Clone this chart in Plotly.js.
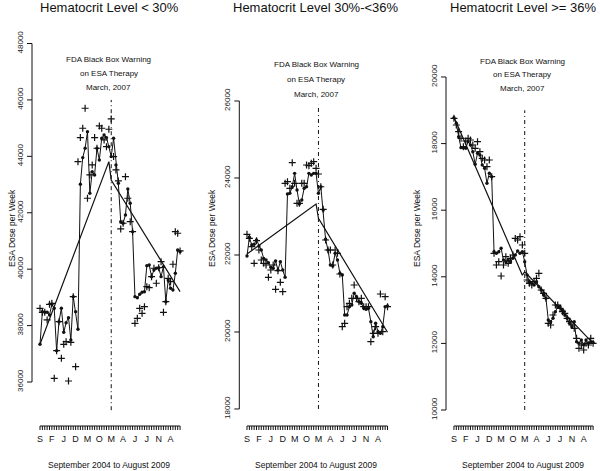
<!DOCTYPE html>
<html>
<head>
<meta charset="utf-8">
<script src="https://cdn.plot.ly/plotly-3.0.1.min.js"></script>
<style>html,body{margin:0;padding:0;background:#fff;}#chart{width:600px;height:471px;}</style>
</head>
<body>
<div id="chart"></div>
<script>
// Month index 0 = Sep 2004 ... 59 = Aug 2009
const months = Array.from({length: 60}, (_, i) => i);
const tickLetters = ['S','F','J','D','M','O','M','A','J','J','N','A'];
const tickLetterMonths = [0,5,10,15,20,25,30,35,40,45,50,55];
const warningMonth = 30; // March 2007

const panelTitles = ['Hematocrit Level < 30%', 'Hematocrit Level 30%-<36%', 'Hematocrit Level >= 36%'];
const warningText = ['FDA Black Box Warning', 'on ESA Therapy', 'March, 2007'];
const yLabel = 'ESA Dose per Week';
const xLabel = 'September 2004 to August 2009';

// Panel 1: Hematocrit < 30%
const p1Observed = [37337,38494,38471,38471,38376,38754,38612,37111,38139,38612,37762,38103,38280,37489,39025,38494,37868,43010,43955,44287,44876,42691,43457,43340,44287,43872,44641,44759,44664,44344,43990,44641,43695,43046,41684,41628,41922,42844,42337,41330,39025,38989,39110,39181,39202,40124,40149,39734,39972,40032,40053,39734,40089,38847,39617,39323,39262,39854,40681,40621];
const p1Plus = [38613,38471,38471,38199,38754,38790,36131,37111,38139,36840,37337,37430,36035,37407,39025,36544,43812,44664,44996,45705,42514,43340,43695,44664,44287,45078,44996,44581,44344,44961,45326,43990,43518,43127,41425,41628,43280,42514,41684,41330,38081,38259,38613,38436,38670,39379,39344,39734,40032,39500,40053,40266,38471,38847,39677,39557,40174,41330,41273,40645];
const p1TrendX = [0, 29, 30, 59];
const p1TrendY = [37337, 43812, 43163, 39202];
const p1Ticks = [36000, 38000, 40000, 42000, 44000, 46000, 48000];

// Panel 2: Hematocrit 30%-<36%
const p2Observed = [21974,22459,22259,22277,22389,22233,22129,21913,21870,21799,21680,21654,21844,21610,21826,21610,21420,23584,23602,23773,24121,23688,23324,23428,23732,23773,24121,24077,24121,24121,23602,23773,23168,22407,22129,21740,21714,22044,21870,21524,21480,20441,20441,20657,20701,21005,20917,20787,20745,20615,20589,20616,20268,19878,20226,20008,19966,20138,20657,20675];
const p2Plus = [22537,22433,22215,21784,22371,22129,21870,21784,21740,21420,21610,21740,21109,21592,21290,21047,23861,23903,23732,24397,23861,23342,23342,23861,23861,24337,24319,24381,24423,24251,24103,23773,23186,22389,22129,22129,21740,22129,22044,21506,20137,20225,20657,20745,20874,21220,20874,20787,20874,20657,20657,20657,19748,19966,20138,19966,20987,20008,20917,20657];
const p2TrendX = [0, 29, 30, 59];
const p2TrendY = [22026, 23325, 22953, 19992];
const p2Ticks = [18000, 20000, 22000, 24000, 26000];

// Panel 3: Hematocrit >= 36%
const p3Observed = [18778,18609,18208,17878,17878,17859,18058,17958,17757,17378,17708,17658,17357,17258,16808,17108,17006,14754,14706,14754,14856,14505,14453,14505,14453,14556,14655,14775,14706,14754,14453,14054,13853,13805,13754,13853,13703,13604,13453,13354,12703,12652,12754,12952,13102,13102,13003,12853,12754,12604,12501,12652,12051,12003,12102,11952,12102,12003,12051,12030];
const p3Plus = [18758,18559,18358,18159,17908,18078,18159,18108,17958,17858,18058,17757,17558,17508,17307,17508,17006,14705,14354,14453,14024,14354,14604,14404,14556,14655,15153,15105,15206,14955,14706,13904,13805,13754,13853,13955,14105,13604,13504,13354,12604,12553,12853,13153,13153,13053,12952,12903,12754,12652,12553,12453,12153,11853,11952,11802,12003,11952,12153,12003];
const p3TrendX = [0, 29, 30, 59];
const p3TrendY = [18800, 14050, 14150, 12000];
const p3Ticks = [10000, 12000, 14000, 16000, 18000, 20000];

// Dash-dot warning line extents (data units)
const warnTop = [46000, 25900, 19000];
const warnBottom = [35000, 18000, 10000];

// ---------- layout helpers ----------
const W = 600, H = 471;
const px = v => v / W;
const py = v => 1 - v / H;
const FONT = 'Liberation Sans, Arial, Helvetica, sans-serif';
const ink = '#111';
const PLOT_TOP = 30, PLOT_BOTTOM = 426;
const domH = PLOT_BOTTOM - PLOT_TOP;

const panels = [
  {obs: p1Observed, plus: p1Plus, tx: p1TrendX, ty: p1TrendY, ticks: p1Ticks,
   left: 32, right: 186, xr: [-3.37, 61.5], yr: [34440, 48479],
   warnY: [60, 73.5, 87.5], ylabX: 12},
  {obs: p2Observed, plus: p2Plus, tx: p2TrendX, ty: p2TrendY, ticks: p2Ticks,
   left: 239.3, right: 393, xr: [-3.23, 61.3], yr: [17558, 27844],
   warnY: [64.5, 80, 95], ylabX: 212},
  {obs: p3Observed, plus: p3Plus, tx: p3TrendX, ty: p3TrendY, ticks: p3Ticks,
   left: 446, right: 599, xr: [-3.37, 61.5], yr: [9520, 21411],
   warnY: [62, 75, 89], ylabX: 417}
];

const tickText = months.map(m => {
  const k = tickLetterMonths.indexOf(m);
  return k >= 0 ? tickLetters[k] : '';
});

const data = [];
const layout = {
  width: W, height: H,
  margin: {l: 0, r: 0, t: 0, b: 0},
  paper_bgcolor: '#fff', plot_bgcolor: '#fff',
  showlegend: false,
  font: {family: FONT, color: ink, size: 8},
  shapes: [], annotations: []
};

panels.forEach((p, k) => {
  const n = k === 0 ? '' : String(k + 1);
  const xa = 'x' + n, ya = 'y' + n;
  const domW = p.right - p.left;
  data.push({x: p.tx, y: p.ty, xaxis: xa, yaxis: ya, mode: 'lines', type: 'scatter',
    line: {color: ink, width: 1.2}, hoverinfo: 'skip'});
  data.push({x: months, y: p.obs, xaxis: xa, yaxis: ya, mode: 'lines+markers', type: 'scatter',
    line: {color: ink, width: 1}, marker: {color: ink, size: 3.4, symbol: 'circle'}, hoverinfo: 'skip'});
  data.push({x: months, y: p.plus, xaxis: xa, yaxis: ya, mode: 'markers', type: 'scatter',
    marker: {color: ink, size: 5, symbol: 'cross-thin-open', line: {color: ink, width: 1.2}}, hoverinfo: 'skip'});

  layout['xaxis' + n] = {
    domain: [px(p.left), px(p.right)], range: p.xr, anchor: ya,
    tickmode: 'array', tickvals: months, ticktext: tickText,
    ticks: 'outside', ticklen: 4, tickwidth: 1, tickcolor: 'rgba(0,0,0,0)',
    tickfont: {size: 9, color: ink, family: FONT}, tickangle: 0,
    showgrid: false, zeroline: false, showline: false, fixedrange: true
  };
  layout['yaxis' + n] = {
    domain: [py(PLOT_BOTTOM), py(PLOT_TOP)], range: p.yr, anchor: xa,
    tickmode: 'array', tickvals: p.ticks, ticktext: p.ticks.map(String),
    ticks: 'outside', ticklen: 5, tickwidth: 1, tickcolor: 'rgba(0,0,0,0)',
    tickfont: {size: 8, color: '#222', family: FONT}, tickangle: -90,
    showgrid: false, zeroline: false, showline: false, fixedrange: true
  };

  // R-style axis lines spanning first..last tick
  layout.shapes.push({type: 'line', xref: xa + ' domain', yref: ya,
    x0: 0, x1: 0, y0: p.ticks[0], y1: p.ticks[p.ticks.length - 1], line: {color: ink, width: 1}});
  layout.shapes.push({type: 'line', xref: xa, yref: ya + ' domain',
    x0: months[0], x1: months[months.length - 1], y0: 0, y1: 0, line: {color: ink, width: 1}});
  // tick marks
  months.forEach(m => layout.shapes.push({type: 'line', xref: xa, yref: ya + ' domain',
    x0: m, x1: m, y0: 0, y1: -4 / domH, line: {color: ink, width: 1}}));
  p.ticks.forEach(t => layout.shapes.push({type: 'line', xref: xa + ' domain', yref: ya,
    x0: 0, x1: -5 / domW, y0: t, y1: t, line: {color: ink, width: 1}}));
  // warning line
  layout.shapes.push({type: 'line', xref: xa, yref: ya,
    x0: warningMonth, x1: warningMonth, y0: warnBottom[k], y1: warnTop[k],
    line: {color: ink, width: 1, dash: '4px,3px,1px,3px'}});

  // title
  layout.annotations.push({text: panelTitles[k], xref: xa + ' domain', x: 0.5, yref: 'paper', y: py(8),
    showarrow: false, xanchor: 'center', yanchor: 'middle', font: {size: 13, color: ink, family: FONT}});
  // warning text
  warningText.forEach((t, j) => layout.annotations.push({text: t, xref: xa, x: warningMonth - 1, yref: 'paper',
    y: py(p.warnY[j]), showarrow: false, xanchor: 'center', yanchor: 'middle',
    font: {size: 8, color: ink, family: FONT}}));
  // y label
  layout.annotations.push({text: yLabel, xref: 'paper', x: px(p.ylabX), yref: 'paper', y: py(228),
    textangle: -90, showarrow: false, xanchor: 'center', yanchor: 'middle', font: {size: 8.5, color: ink, family: FONT}});
  // x label
  layout.annotations.push({text: xLabel, xref: xa + ' domain', x: 0.5, yref: 'paper', y: py(465),
    showarrow: false, xanchor: 'center', yanchor: 'middle', font: {size: 8.5, color: ink, family: FONT}});
});

Plotly.newPlot('chart', data, layout, {staticPlot: true, displayModeBar: false});
</script>
</body>
</html>
